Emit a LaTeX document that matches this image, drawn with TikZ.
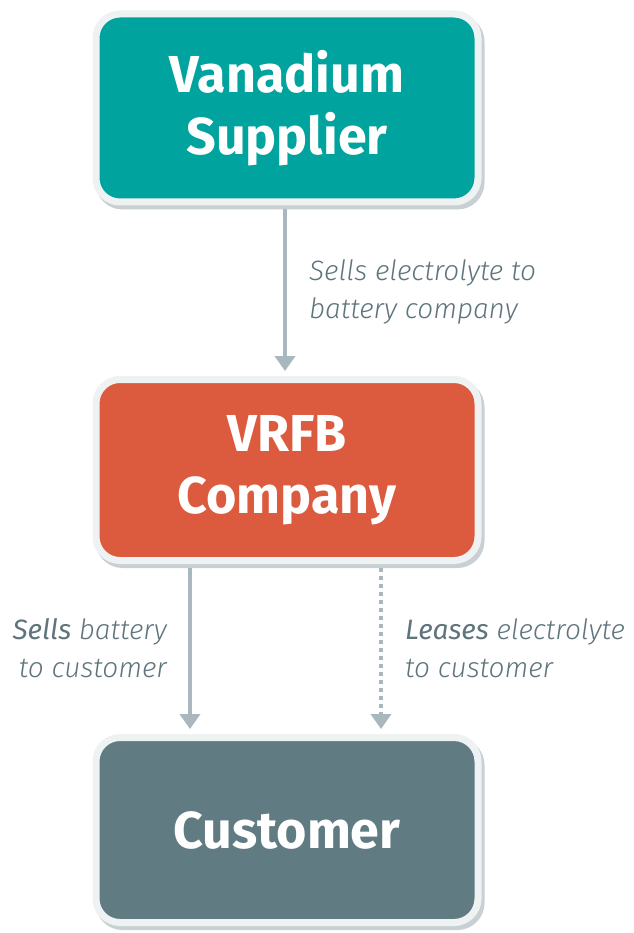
\documentclass[tikz,border=0pt]{standalone}
\usepackage{fontspec}
\setmainfont{Fira Sans}
\newfontfamily\lightit{Fira Sans Light Italic}
\newfontfamily\regit{Fira Sans Italic}
\usetikzlibrary{arrows.meta}
\definecolor{teal1}{HTML}{00A39E}
\definecolor{red1}{HTML}{DC5A3E}
\definecolor{slate1}{HTML}{607B82}
\definecolor{rim}{HTML}{EEF2F3}
\definecolor{shad}{HTML}{C9D0D3}
\definecolor{arrc}{HTML}{A8B8BE}
\definecolor{lbl}{HTML}{5F747C}
\tikzset{
  boxnode/.style={draw=rim, line width=7pt, rounded corners=24pt, minimum width=382pt,
    text=white, font=\fontsize{52}{62}\selectfont\bfseries, align=center, inner sep=0pt},
  arr/.style={draw=arrc, line width=4pt, -{Triangle[width=20pt,length=15pt]}},
  lbltext/.style={text=lbl, font=\fontsize{28}{38}\selectfont\lightit, inner sep=0pt},
}
\begin{document}
\begin{tikzpicture}[x=1pt,y=-1pt]
\useasboundingbox[fill=white] (0,0) rectangle (633,933);
% shadows
\foreach \cy/\h in {108/188, 470/181, 830/185}{
  \fill[shad, rounded corners=27pt] (96-3.5+3,\cy-\h/2-3.5+4) rectangle (478+3.5+3,\cy+\h/2+3.5+4);
}
\node[boxnode, fill=teal1, minimum height=188pt] (sup) at (287,108) {Vanadium\\Supplier};
\node[boxnode, fill=red1, minimum height=181pt] (mid) at (287,470) {VRFB\\Company};
\node[boxnode, fill=slate1, minimum height=185pt] (cust) at (287,830) {Customer};
\draw[arr, shorten <=3.5pt, shorten >=5pt] ([xshift=-2pt]sup.south) -- ([xshift=-2pt]mid.north);
\draw[arr, shorten <=3.5pt, shorten >=5pt] ([xshift=-97pt]mid.south) -- ([xshift=-97pt]cust.north);
\draw[arr, dash pattern=on 4pt off 4pt, shorten <=3.5pt, shorten >=5pt] ([xshift=94pt]mid.south) -- ([xshift=94pt]cust.north);
\node[lbltext, anchor=base west, align=left] (l1) at (309,318) {Sells electrolyte to\\battery company};
\node[lbltext, anchor=base east, align=right] (l2) at (167,677) {{\regit Sells} battery\\to customer};
\node[lbltext, anchor=base west, align=left] (l3) at (405,677) {{\regit Leases} electrolyte\\to customer};
\end{tikzpicture}
\end{document}
